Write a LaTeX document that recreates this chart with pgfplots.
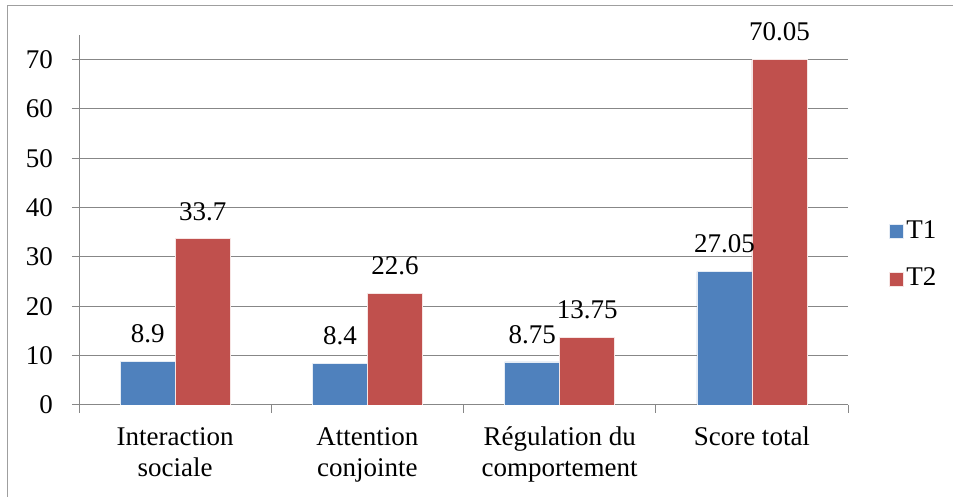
\documentclass[border=0pt]{standalone}
\usepackage{fontspec}
\setmainfont{Liberation Serif}
\usepackage{pgfplots}
\pgfplotsset{compat=1.18}
\definecolor{xblue}{HTML}{4F81BD}
\definecolor{xred}{HTML}{C0504D}
\definecolor{xgrid}{HTML}{878787}
\begin{document}
\fontsize{27}{31}\selectfont
\begin{tikzpicture}[x=1pt,y=1pt]
\useasboundingbox (0,0) rectangle (953,497);
\draw[color=xgrid!80,line width=1pt] (7,-10) -- (7,491) -- (970,491);
\begin{axis}[
  at={(79pt,92pt)}, anchor=south west,
  scale only axis, width=769pt, height=370pt,
  ybar=0pt, bar width=55pt,
  xmin=-0.5, xmax=3.5, ymin=0, ymax=75,
  axis x line*=bottom, axis y line*=left,
  axis line style={xgrid, line width=1pt, -},
  xtick={0,1,2,3},
  xticklabels={{Interaction\\sociale},{Attention\\conjointe},{Régulation du\\comportement},{Score total}},
  xticklabel style={align=center, yshift=-6pt, font=\fontsize{27}{31}\selectfont},
  minor xtick={-0.5,0.5,1.5,2.5,3.5},
  ytick={0,10,...,70},
  tick align=outside,
  major tick length=7pt, minor tick length=8pt,
  x tick style={draw=none},
  minor x tick style={xgrid, line width=1pt, draw=xgrid},
  y tick style={xgrid, line width=1pt},
  yticklabel style={xshift=-10pt},
  ymajorgrids, major grid style={xgrid, line width=1pt},
  /pgf/number format/assume math mode=true,
  nodes near coords,
  every node near coord/.append style={text=black, inner sep=0pt, yshift=18pt},
  point meta=explicit symbolic,
  legend style={at={(1.053,0.405)}, anchor=west, draw=none, fill=none, row sep=20pt, font=\fontsize{27}{31}\selectfont, legend cell align=left, inner sep=0pt, nodes={inner sep=3pt}},
  legend image code/.code={\fill[#1] (0pt,-7pt) rectangle (14pt,7pt);},
]
\addplot[fill=xblue, draw=white!85!xblue, line width=0.5pt] coordinates {(0,8.9)[8.9] (1,8.4)[8.4] (2,8.75)[8.75] (3,27.05)[27.05]};
\addplot[fill=xred, draw=white!85!xred, line width=0.5pt] coordinates {(0,33.7)[33.7] (1,22.6)[22.6] (2,13.75)[13.75] (3,70.05)[70.05]};
\legend{T1,T2}
\end{axis}
\end{tikzpicture}
\end{document}
